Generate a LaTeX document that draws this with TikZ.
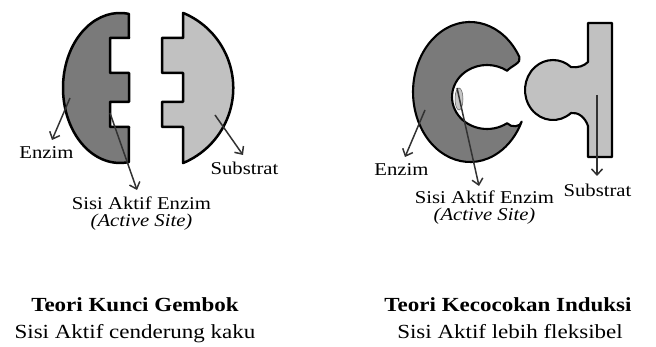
\documentclass[tikz,border=0pt]{standalone}
\usepackage{fontspec}
\setmainfont{Liberation Serif}[FakeStretch=1.15]
\usetikzlibrary{arrows.meta}
\definecolor{enzgray}{RGB}{122,122,122}
\definecolor{subgray}{RGB}{193,193,193}
\definecolor{arrowgray}{RGB}{50,50,50}
\begin{document}
\begin{tikzpicture}[x=1pt,y=-1pt,
  blob/.style={draw=black, line width=2.5pt, line join=round},
  thinblob/.style={draw=black, line width=2.1pt, line join=round},
  pointer/.style={draw=arrowgray, line width=1.5pt,
    -{Straight Barb[length=6pt,width=11pt,line width=1.5pt]}},
  lbl/.style={font=\fontsize{18}{20}\selectfont, inner sep=0pt, anchor=base},
  itlbl/.style={lbl, font=\fontsize{18}{20}\selectfont\itshape},
  title/.style={font=\fontsize{20}{24}\selectfont\bfseries, inner sep=0pt, anchor=base},
  subtitle/.style={font=\fontsize{20}{24}\selectfont, inner sep=0pt, anchor=base}]
\useasboundingbox (0,0) rectangle (656,347);

% ---- lock and key: enzyme with square notches ----
\draw[blob, fill=enzgray] (128.9,13.9)
  arc[start angle=279, end angle=81, x radius=57, y radius=75]
  -- (129,127) -- (110,127) -- (110,102) -- (129,102)
  -- (129,73) -- (110,73) -- (110,38) -- (129,38) -- cycle;

% ---- lock and key: substrate with matching teeth ----
\draw[blob, fill=subgray] (183.1,12.9)
  arc[start angle=-67.5, end angle=67.5, radius=81.25]
  -- (183,127) -- (162,127) -- (162,102) -- (183,102)
  -- (183,73) -- (162,73) -- (162,38) -- (183,38) -- cycle;

% ---- induced fit: C-shaped enzyme with blunt arm ends ----
\draw[thinblob, fill=enzgray] (519.4,57)
  arc[start angle=330, end angle=25, x radius=57, y radius=70]
  .. controls (521,127) and (511,128) .. (507.1,123.2)
  arc[start angle=55, end angle=305, x radius=35, y radius=32]
  .. controls (511,66) and (522,63) .. (519.4,57) -- cycle;
\draw[line width=0.5pt, draw=gray!70!black, fill=gray!45] (459,99) ellipse[x radius=4, y radius=11];

% ---- induced fit: substrate with round head ----
\draw[thinblob, fill=subgray] (588,62) -- (588,23) -- (612,23) -- (612,157)
  -- (588,157) -- (588,126)
  .. controls (585,117) and (578,112) .. (571,113)
  arc[start angle=50, end angle=310, x radius=28, y radius=30]
  .. controls (578,68) and (584,66) .. (588,62) -- cycle;

% ---- labels ----
\node[lbl] (enzA) at (46.5,159) {Enzim};
\node[lbl] (siteA) at (141.5,210) {Sisi Aktif Enzim};
\node[itlbl] (siteAen) at (141.5,227) {(Active Site)};
\node[lbl] (subA) at (244.5,175) {Substrat};

\node[lbl] (enzB) at (401.5,176) {Enzim};
\node[lbl] (siteB) at (484.5,204) {Sisi Aktif Enzim};
\node[itlbl] (siteBen) at (484.5,221) {(Active Site)};
\node[lbl] (subB) at (597.5,197) {Substrat};

\node[title] (lockT) at (135,312) {Teori Kunci Gembok};
\node[subtitle] (lockS) at (135,338) {Sisi Aktif cenderung kaku};
\node[title] (fitT) at (508,312) {Teori Kecocokan Induksi};
\node[subtitle] (fitS) at (510,338) {Sisi Aktif lebih fleksibel};

% ---- pointers ----
\coordinate (pEnzA) at (70,98);   \coordinate (tEnzA) at (52,140);
\coordinate (pSiteA) at (110,113); \coordinate (tSiteA) at (137,190);
\coordinate (pSubA) at (215,115); \coordinate (tSubA) at (243,155);
\coordinate (pEnzB) at (425,110); \coordinate (tEnzB) at (405,157);
\coordinate (pSiteB) at (457,88); \coordinate (tSiteB) at (479,186);
\coordinate (pSubB) at (597,95);  \coordinate (tSubB) at (597,176);

\draw[pointer] (pEnzA) -- (tEnzA);
\draw[pointer] (pSiteA) -- (tSiteA);
\draw[pointer] (pSubA) -- (tSubA);
\draw[pointer] (pEnzB) -- (tEnzB);
\draw[pointer] (pSiteB) -- (tSiteB);
\draw[pointer] (pSubB) -- (tSubB);
\end{tikzpicture}
\end{document}
